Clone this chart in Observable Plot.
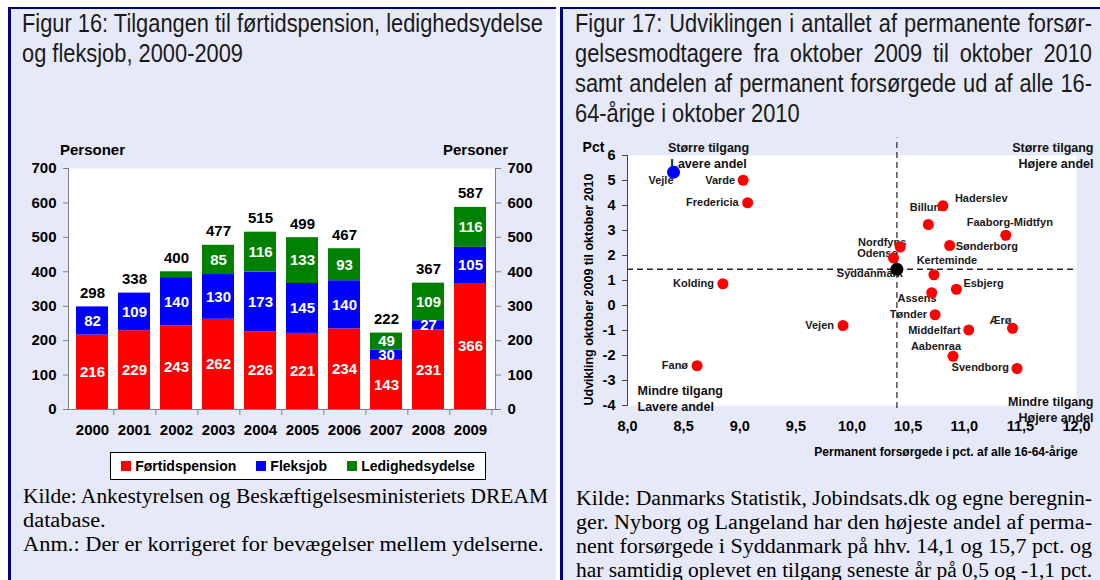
<!DOCTYPE html>
<html><head><meta charset="utf-8">
<script src="https://cdn.jsdelivr.net/npm/d3@7"></script>
<script src="https://cdn.jsdelivr.net/npm/@observablehq/plot@0.6"></script>
<style>
html,body{margin:0;padding:0;background:#fff;}
body{width:1100px;height:580px;position:relative;overflow:hidden;font-family:"Liberation Sans",Arial,sans-serif;}
.panel{position:absolute;top:7px;height:573px;background:#E6E9F8;border-left:3px solid #000080;border-top:2px solid #000080;box-sizing:border-box;}
.chart{position:absolute;}
.chart svg{overflow:visible;}
.legend{position:absolute;left:110px;top:452px;width:376px;height:28px;box-sizing:border-box;border:1px solid #000;background:#fff;display:flex;align-items:center;justify-content:center;font-weight:bold;font-size:14px;}
.legend .it{display:flex;align-items:center;margin:0 10px;}
.legend .sw{width:10px;height:10px;margin-right:4px;}
</style>
</head><body>
<div class="panel" style="left:8px;width:548px;"></div>
<div class="panel" style="left:560px;width:540px;"></div>
<div id="c1" class="chart" style="left:12px;top:135px;"></div>
<div id="c2" class="chart" style="left:563px;top:135px;"></div>
<div id="legend" class="legend"></div>
<script>
// ---------- Figure 16 data ----------
const years = ["2000","2001","2002","2003","2004","2005","2006","2007","2008","2009"];
const seriesNames = ["Førtidspension","Fleksjob","Ledighedsydelse"];
const fortidspension = [216,229,243,262,226,221,234,143,231,366];
const fleksjob = [82,109,140,130,173,145,140,30,27,105];
const ledighedsydelse = [0,0,17,85,116,133,93,49,109,116];
const seriesColors = ["#FF0000","#0000FF","#008000"];
const yTicks16 = [0,100,200,300,400,500,600,700];
const unitLabel16 = "Personer";

// ---------- Figure 17 data ----------
const kommuner = ["Vejle","Varde","Fredericia","Kolding","Fanø","Vejen","Haderslev","Billund","Faaborg-Midtfyn","Sønderborg","Nordfyns","Odense","Kerteminde","Syddanmark","Esbjerg","Assens","Tønder","Middelfart","Ærø","Aabenraa","Svendborg"];
const andel = [8.41,9.03,9.07,8.85,8.62,9.92,10.81,10.68,11.37,10.87,10.43,10.37,10.73,10.40,10.93,10.71,10.74,11.04,11.43,10.90,11.47];
const udvikling = [5.33,5.01,4.11,0.87,-2.41,-0.80,3.99,3.24,2.81,2.40,2.34,1.90,1.23,1.45,0.65,0.51,-0.37,-0.98,-0.91,-2.03,-2.52];
const highlighted = ["Vejle"];
const regionName = "Syddanmark";
const xTicks17 = [8,8.5,9,9.5,10,10.5,11,11.5,12];
const yTicks17 = [-4,-3,-2,-1,0,1,2,3,4,5,6];
const xTitle17 = "Permanent forsørgede i pct. af alle 16-64-årige";
const yTitle17 = "Udvikling oktober 2009 til oktober 2010";
const unitLabel17 = "Pct";
const quadrantTL = "Større tilgang\nLavere andel";
const quadrantTR = "Større tilgang\nHøjere andel";
const quadrantBL = "Mindre tilgang\nLavere andel";
const quadrantBR = "Mindre tilgang\nHøjere andel";

// ---------- Texts ----------
const title16 = ["Figur 16: Tilgangen til førtidspension, ledighedsydelse","og fleksjob, 2000-2009"];
const title17 = ["Figur 17: Udviklingen i antallet af permanente forsør-","gelsesmodtagere fra oktober 2009 til oktober 2010","samt andelen af permanent forsørgede ud af alle 16-","64-årige i oktober 2010"];
const caption16 = ["Kilde: Ankestyrelsen og Beskæftigelsesministeriets DREAM","database.","Anm.: Der er korrigeret for bevægelser mellem ydelserne."];
const caption17 = ["Kilde: Danmarks Statistik, Jobindsats.dk og egne beregnin-","ger. Nyborg og Langeland har den højeste andel af perma-","nent forsørgede i Syddanmark på hhv. 14,1 og 15,7 pct. og","har samtidig oplevet en tilgang seneste år på 0,5 og -1,1 pct."];

function textLines(lines, o) {
  lines.forEach((t, i) => {
    const d = document.createElement("div");
    d.style.cssText = `position:absolute;left:${o.left}px;top:${o.top + i*o.lineHeight}px;line-height:${o.lineHeight}px;font-family:${o.family};font-size:${o.fontSize}px;color:${o.color};white-space:nowrap;transform-origin:0 50%;`;
    d.textContent = t;
    document.body.appendChild(d);
    const w = d.getBoundingClientRect().width;
    let s = o.scale;
    const mode = o.justify[i];
    if (mode === true) {
      const n = (t.match(/ /g) || []).length;
      if (w * s >= o.width || n === 0) s = o.width / w;
      else d.style.wordSpacing = ((o.width / s - w) / n) + "px";
    } else if (mode === "fit") {
      if (w * s > o.width) s = o.width / w;
    }
    d.style.transform = `scaleX(${s})`;
  });
}
const sans = "'Liberation Sans',Arial,sans-serif";
const serif = "'Liberation Serif','Times New Roman',serif";
textLines(title16, {left:22, top:8, lineHeight:30, fontSize:26, family:sans, color:"#1a1a1a", scale:0.84, width:524, justify:[false,false]});
textLines(title17, {left:575, top:8, lineHeight:30, fontSize:26, family:sans, color:"#1a1a1a", scale:0.84, width:517, justify:[true,true,true,false]});
textLines(caption16, {left:23, top:484, lineHeight:24, fontSize:20, family:serif, color:"#000", scale:1.12, width:525, justify:[true,false,false]});
textLines(caption17, {left:576, top:486, lineHeight:24, fontSize:20, family:serif, color:"#000", scale:1.12, width:516, justify:[true,true,true,"fit"]});

// ---------- Figure 16 chart ----------
const rows = [];
const seriesValues = [fortidspension, fleksjob, ledighedsydelse];
years.forEach((yr, i) => seriesNames.forEach((s, k) => rows.push({year: yr, series: s, value: seriesValues[k][i]})));
const totals = years.map((yr, i) => ({year: yr, total: fortidspension[i] + fleksjob[i] + ledighedsydelse[i]}));

const W1 = 540, ML1 = 56, MR1 = 57;
const halfStep = (W1 - ML1 - MR1) / years.length / 2;
const axisGrey = "#808080";
const c1 = Plot.plot({
  width: W1, height: 310, marginLeft: ML1, marginRight: MR1, marginTop: 33, marginBottom: 36,
  style: {background: "transparent", fontFamily: sans, overflow: "visible"},
  x: {domain: years, paddingInner: 0.23, paddingOuter: 0.115},
  y: {domain: [0, 700]},
  color: {domain: seriesNames, range: seriesColors},
  marks: [
    Plot.frame({fill: "white", stroke: "none"}),
    Plot.barY(rows, {x: "year", y: "value", fill: "series", order: seriesNames}),
    Plot.text(rows, Plot.stackY({x: "year", y: "value", z: "series", order: seriesNames,
      text: d => d.value >= 20 ? String(d.value) : null, fill: "white", fontWeight: "bold", fontSize: 15})),
    Plot.text(totals, {x: "year", y: "total", text: d => String(d.total), dy: -14, fontWeight: "bold", fontSize: 15, fill: "black"}),
    Plot.ruleY([0], {stroke: axisGrey}),
    Plot.frame({anchor: "left", stroke: axisGrey}),
    Plot.frame({anchor: "right", stroke: axisGrey}),
    Plot.axisY({anchor: "left", ticks: yTicks16, tickSize: 5, tickPadding: 7, fontSize: 15, fontWeight: "bold", stroke: axisGrey, fill: "black", label: null}),
    Plot.axisY({anchor: "right", ticks: yTicks16, tickSize: 5, tickPadding: 7, fontSize: 15, fontWeight: "bold", stroke: axisGrey, fill: "black", label: null}),
    Plot.axisX({tickSize: 0, tickPadding: 15, fontSize: 15, fontWeight: "bold", fill: "black", label: null}),
    Plot.axisX({tickSize: 6, tickFormat: () => "", dx: halfStep, stroke: axisGrey, label: null}),
    Plot.text([unitLabel16], {frameAnchor: "top-left", text: d => d, textAnchor: "middle", dx: 24, dy: -18, lineAnchor: "middle", fontWeight: "bold", fontSize: 15}),
    Plot.text([unitLabel16], {frameAnchor: "top-right", text: d => d, textAnchor: "middle", dx: -20, dy: -18, lineAnchor: "middle", fontWeight: "bold", fontSize: 15})
  ]
});
document.getElementById("c1").appendChild(c1);

// legend
const lg = document.getElementById("legend");
seriesNames.forEach((s, k) => {
  const it = document.createElement("div");
  it.className = "it";
  it.innerHTML = `<div class="sw" style="background:${seriesColors[k]}"></div><span>${s}</span>`;
  lg.appendChild(it);
});

// ---------- Figure 17 chart ----------
const pts = kommuner.map((n, i) => ({name: n, x: andel[i], y: udvikling[i]}));
const region = pts.find(d => d.name === regionName);
const placement = {
  "Vejle": ["end", 0, 8], "Varde": ["end", -8, 0], "Fredericia": ["end", -9, 0], "Kolding": ["end", -9, 0],
  "Fanø": ["end", -9, 0], "Vejen": ["end", -9, 0], "Haderslev": ["start", 12, -7], "Billund": ["middle", 0, -17],
  "Faaborg-Midtfyn": ["middle", 4, -13], "Sønderborg": ["start", 6, 1], "Nordfyns": ["end", 6, -5],
  "Odense": ["end", 4, -5], "Kerteminde": ["middle", 13, -14], "Syddanmark": ["end", 6, 4],
  "Esbjerg": ["start", 7, -6], "Assens": ["end", 5, 6], "Tønder": ["end", -8, 0], "Middelfart": ["end", -8, 0],
  "Ærø": ["end", -1, -8], "Aabenraa": ["end", 8, -10], "Svendborg": ["end", -8, -1]
};
const labelMarks = pts.map(d => {
  const [a, dx, dy] = placement[d.name] || ["end", -8, 0];
  return Plot.text([d], {x: "x", y: "y", text: "name", textAnchor: a, dx, dy, fontSize: 11, fontWeight: "bold", fill: "#1a1a1a"});
});
const qStyle = {text: d => d, fontSize: 12.5, fontWeight: "bold", lineAnchor: "middle", lineHeight: 1.3, fill: "#111"};
const c2 = Plot.plot({
  width: 537, height: 330, marginLeft: 64, marginRight: 24, marginTop: 20, marginBottom: 60,
  style: {background: "transparent", fontFamily: sans, overflow: "visible"},
  x: {domain: [8, 12]},
  y: {domain: [-4, 6]},
  marks: [
    Plot.frame({fill: "white", stroke: "none"}),
    Plot.ruleY([region.y], {stroke: "#222", strokeDasharray: "6,4", strokeWidth: 1.3}),
    Plot.ruleX([region.x], {y1: -4.12, y2: 6.7, stroke: "#333", strokeDasharray: "6,4", strokeWidth: 1.3}),
    Plot.frame({anchor: "left", stroke: "#444"}),
    Plot.axisY({ticks: yTicks17, tickFormat: d => String(d), tickSize: 5, tickPadding: 7, fontSize: 14.5, fontWeight: "bold", stroke: "#444", fill: "black", label: null}),
    Plot.axisX({ticks: xTicks17, tickFormat: d => d.toFixed(1).replace(".", ","), tickSize: 0, tickPadding: 15, fontSize: 14.5, fontWeight: "bold", fill: "black", label: null}),
    Plot.text([xTitle17], {frameAnchor: "bottom", text: d => d, textAnchor: "middle", dx: 94, dy: 47, lineAnchor: "middle", fontSize: 12, fontWeight: "bold"}),
    Plot.text([yTitle17], {frameAnchor: "left", text: d => d, textAnchor: "middle", rotate: -90, dx: -39, dy: 9, lineAnchor: "middle", fontSize: 12.5, fontWeight: "bold"}),
    Plot.text([unitLabel17], {frameAnchor: "top-left", text: d => d, textAnchor: "middle", dx: -34, dy: -8, lineAnchor: "middle", fontSize: 14, fontWeight: "bold"}),
    Plot.text([quadrantTL], {frameAnchor: "top-left", dx: 81, dy: -1, textAnchor: "middle", ...qStyle}),
    Plot.text([quadrantTR], {frameAnchor: "top-right", dx: 17, dy: -1, textAnchor: "end", ...qStyle}),
    Plot.text([quadrantBL], {frameAnchor: "bottom-left", dx: 10, dy: -8, textAnchor: "start", ...qStyle}),
    Plot.text([quadrantBR], {frameAnchor: "bottom-right", dx: 17, dy: 3, textAnchor: "end", ...qStyle}),
    ...labelMarks,
    Plot.dot(pts.filter(d => d.name !== regionName && !highlighted.includes(d.name)), {x: "x", y: "y", r: 5.5, fill: "#FF0000", stroke: "none"}),
    Plot.dot(pts.filter(d => highlighted.includes(d.name)), {x: "x", y: "y", r: 6.5, fill: "#0000FF", stroke: "none"}),
    Plot.dot([region], {x: "x", y: "y", r: 6.5, fill: "#000", stroke: "none"})
  ]
});
document.getElementById("c2").appendChild(c2);
</script>
</body></html>
